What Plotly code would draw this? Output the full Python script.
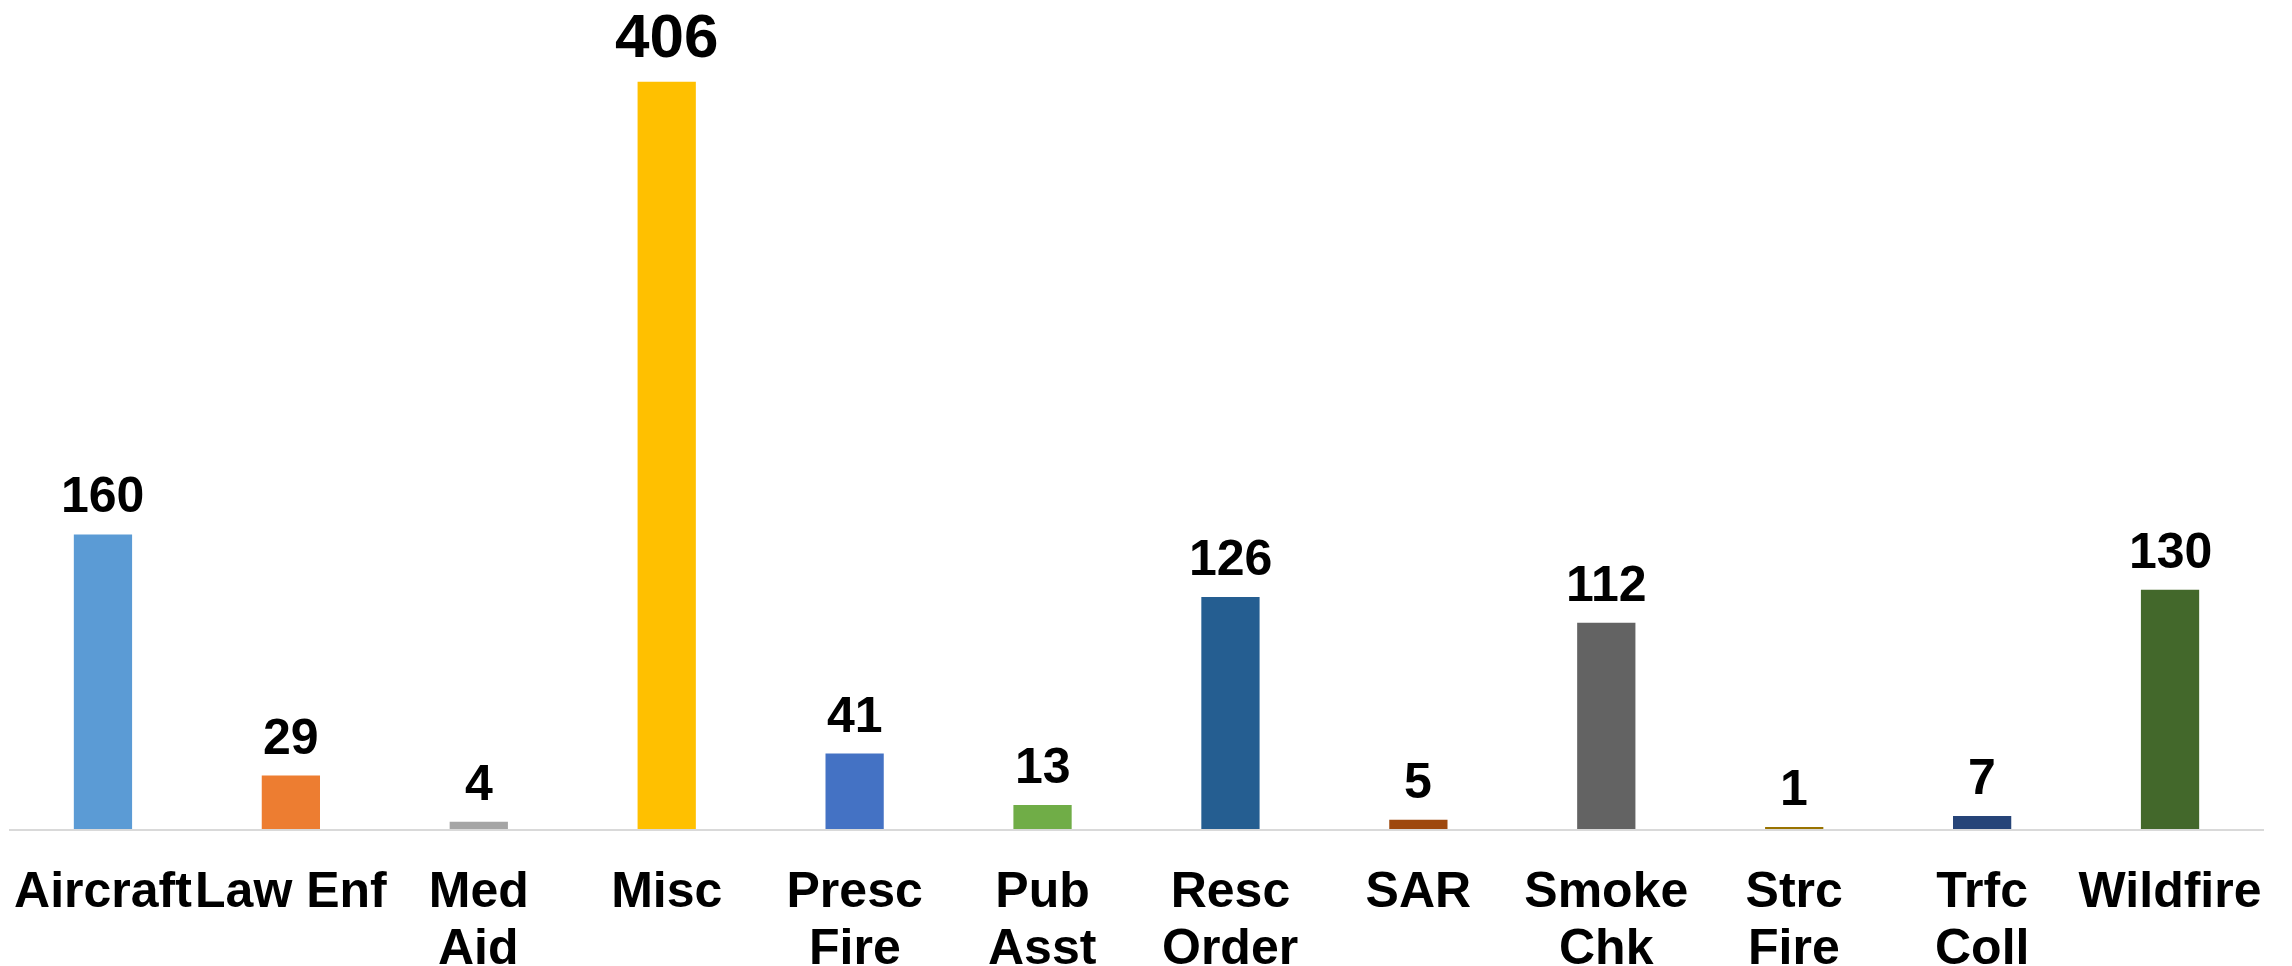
import plotly.graph_objects as go

# incident counts by type (label split in two lines: top word / bottom word)
categories = ['Aircraft', 'Law Enf', 'Med Aid', 'Misc', 'Presc Fire', 'Pub Asst',
              'Resc Order', 'SAR', 'Smoke Chk', 'Strc Fire', 'Trfc Coll', 'Wildfire']
line1 = ['Aircraft', 'Law Enf', 'Med', 'Misc', 'Presc', 'Pub',
         'Resc', 'SAR', 'Smoke', 'Strc', 'Trfc', 'Wildfire']
line2 = ['', '', 'Aid', '', 'Fire', 'Asst', 'Order', '', 'Chk', 'Fire', 'Coll', '']
counts = [160, 29, 4, 406, 41, 13, 126, 5, 112, 1, 7, 130]
bar_colors = ['#5B9BD5', '#ED7D31', '#A5A5A5', '#FFC000', '#4472C4', '#70AD47',
              '#255E91', '#9E480E', '#636363', '#997300', '#264478', '#43682B']

FONT = 'Liberation Sans, Arial'

fig = go.Figure(go.Bar(
    x=categories, y=counts,
    marker=dict(color=bar_colors, line_width=0),
    cliponaxis=False,
))

# value labels above the bars (largest one bigger)
for cat, v in zip(categories, counts):
    big = v == max(counts)
    fig.add_annotation(x=cat, y=v, xref='x', yref='y', yanchor='bottom',
                       yshift=10 if big else 9, text=str(v), showarrow=False,
                       font=dict(family=FONT, size=62 if big else 50, color='black', weight='bold'))

# second line of the category labels, tighter than plotly's own line spacing
for cat, txt in zip(categories, line2):
    if txt:
        fig.add_annotation(x=cat, xref='x', y=0, yref='paper', yanchor='top',
                           yshift=-88, text=txt, showarrow=False,
                           font=dict(family=FONT, size=50, color='black', weight='bold'))

# page body has an 8px margin, so the figure is sized to fit the window
fig.update_layout(
    width=2284, height=958,
    margin=dict(l=1, r=28, t=0, b=137),
    paper_bgcolor='white', plot_bgcolor='white',
    bargap=0.69, showlegend=False,
    font=dict(family=FONT, color='black'),
)
fig.update_xaxes(
    showline=True, linecolor='#D9D9D9', linewidth=2,
    tickmode='array', tickvals=categories, ticktext=line1,
    ticks='outside', ticklen=16, tickcolor='rgba(0,0,0,0)',
    tickfont=dict(size=50, weight='bold', color='black'),
    showgrid=False, automargin=False, tickangle=0,
)
fig.update_yaxes(range=[0, 446], visible=False, showgrid=False, automargin=False)

fig.write_html("out.html")
